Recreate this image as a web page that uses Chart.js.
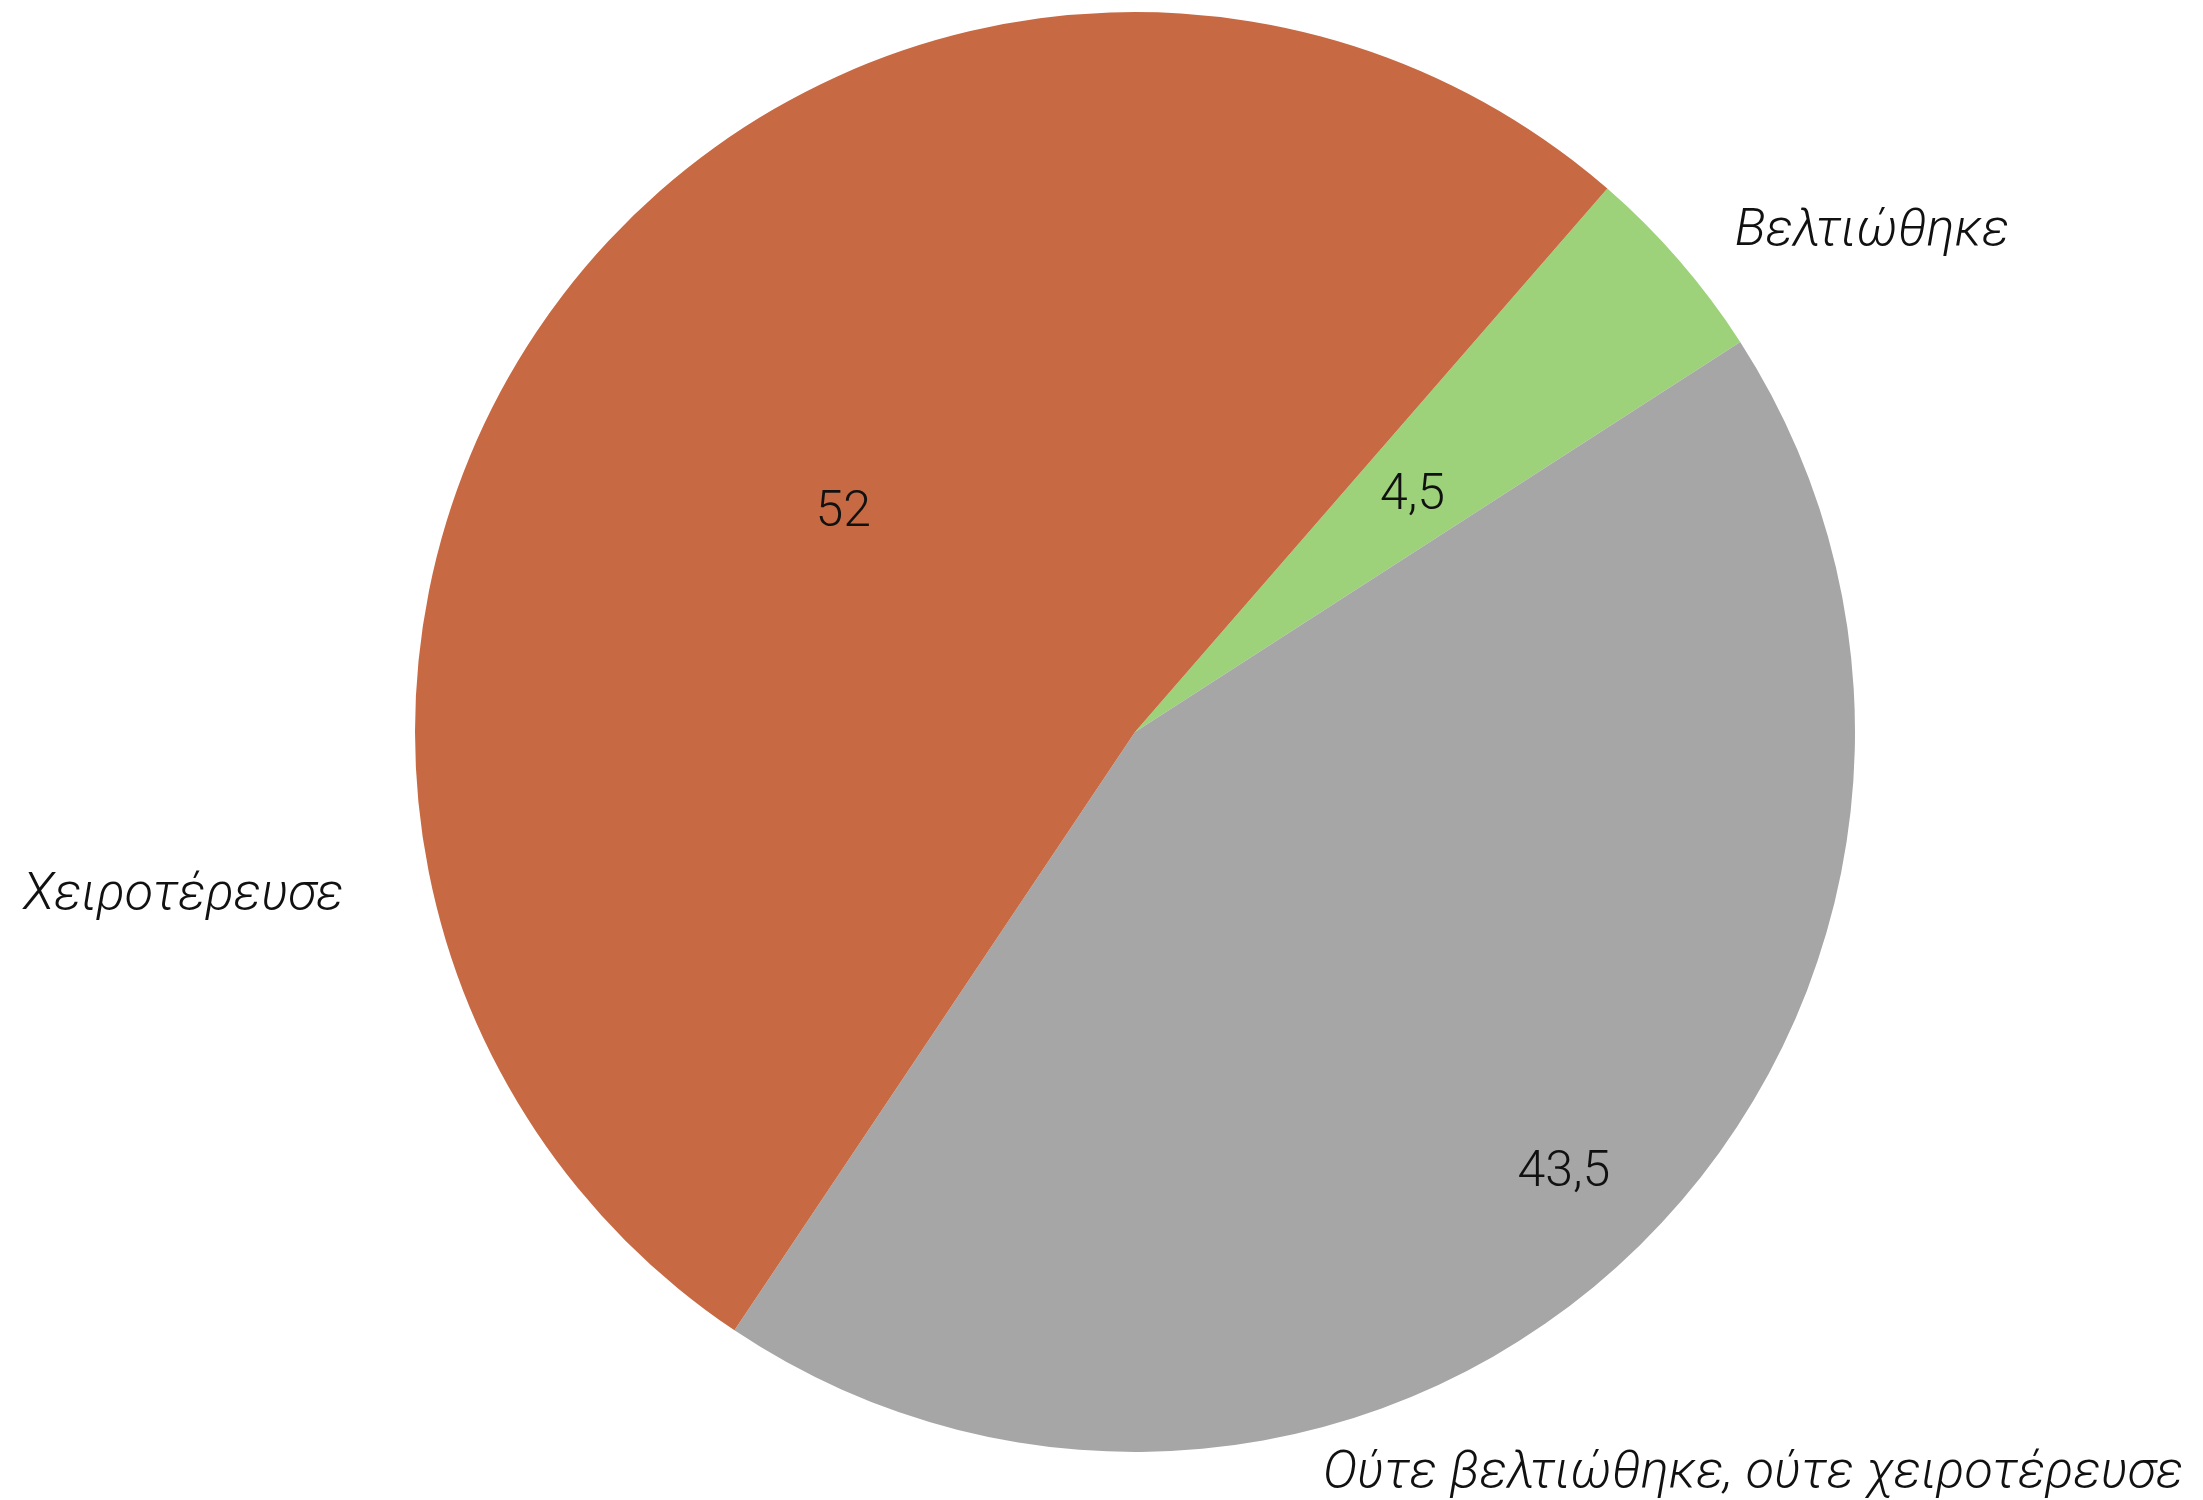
<!DOCTYPE html>
<html>
<head>
<meta charset="utf-8">
<script src="https://cdn.jsdelivr.net/npm/chart.js@4"></script>
<style>
  html, body { margin: 0; padding: 0; background: #fff; }
  #wrap { width: 2203px; height: 1500px; position: relative; }
</style>
</head>
<body>
<div id="wrap"><canvas id="chart-pie"></canvas></div>
<script>
const categories = ['Βελτιώθηκε', 'Ούτε βελτιώθηκε, ούτε χειροτέρευσε', 'Χειροτέρευσε'];
const values = [4.5, 43.5, 52];
const valueLabels = ['4,5', '43,5', '52'];

const colors = ['#9dd27a', '#a6a6a6', '#c76a43'];

// label placement, relative to pie centre in units of radius
const valuePos = [0.51, 0.85, 0.51];
const catPos = [
  { dx: 0.833, dy: -0.699, align: 'left' },
  { dx: 0.261, dy: 1.026, align: 'left' },
  { dx: -1.099, dy: 0.224, align: 'right' }
];

const FONT = "Roboto, 'Helvetica Neue', 'Liberation Sans', sans-serif";
const BASELINE_FIX = 5; // roboto sits a bit higher than the original face

const pieLabels = {
  id: 'pieLabels',
  afterDatasetsDraw(chart) {
    const ctx = chart.ctx;
    const meta = chart.getDatasetMeta(0);
    ctx.save();
    ctx.fillStyle = '#111';
    ctx.textBaseline = 'middle';
    meta.data.forEach((arc, i) => {
      const { x, y, startAngle, endAngle, outerRadius: r } = arc.getProps(['x', 'y', 'startAngle', 'endAngle', 'outerRadius'], true);
      const mid = (startAngle + endAngle) / 2;
      ctx.font = `300 50px ${FONT}`;
      ctx.textAlign = 'center';
      ctx.fillText(valueLabels[i],
        x + Math.cos(mid) * r * valuePos[i],
        y + Math.sin(mid) * r * valuePos[i] + BASELINE_FIX);

      const c = catPos[i];
      ctx.font = `italic 300 52px ${FONT}`;
      ctx.textAlign = c.align;
      ctx.fillText(categories[i], x + c.dx * r, y + c.dy * r + BASELINE_FIX - 2);
    });
    ctx.restore();
  }
};

new Chart(document.getElementById('chart-pie'), {
  type: 'pie',
  data: {
    labels: categories,
    datasets: [{
      data: values,
      backgroundColor: colors,
      borderWidth: 0
    }]
  },
  options: {
    responsive: true,
    maintainAspectRatio: false,
    animation: false,
    rotation: 41,
    layout: { padding: { left: 415, right: 348, top: 12, bottom: 48 } },
    plugins: {
      legend: { display: false },
      tooltip: { enabled: false }
    }
  },
  plugins: [pieLabels]
});
</script>
</body>
</html>
